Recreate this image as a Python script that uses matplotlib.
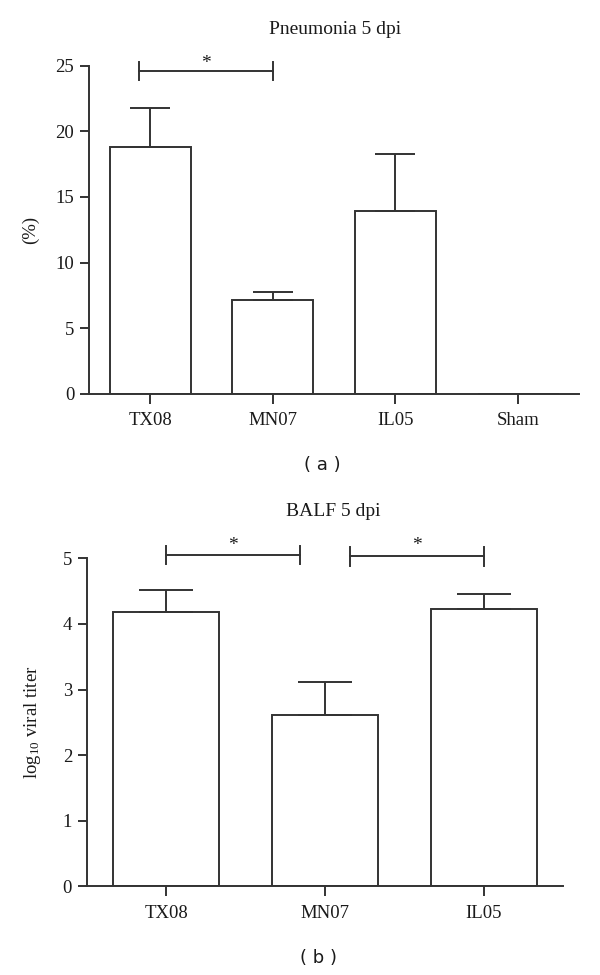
import numpy as np
import matplotlib
matplotlib.use("Agg")
import matplotlib.pyplot as plt

# Data
groups_a = ["TX08", "MN07", "IL05", "Sham"]
means_a = [18.8, 7.15, 13.9, 0.0]
err_a = [2.95, 0.6, 4.4, 0.0]

groups_b = ["TX08", "MN07", "IL05"]
means_b = [4.18, 2.61, 4.23]
err_b = [0.33, 0.50, 0.23]

plt.rcParams["font.family"] = ["Liberation Serif", "DejaVu Serif"]
plt.rcParams["mathtext.fontset"] = "custom"
plt.rcParams["mathtext.rm"] = "Liberation Serif"
plt.rcParams["mathtext.it"] = "Liberation Serif:italic"

line_col = "#333333"
txt_col = "#1a1a1a"
lw = 1.4
fs = 13.5

fig = plt.figure(figsize=(6, 9.75), dpi=100)
ax1 = fig.add_axes([0.148, 0.5962, 0.8177, 0.3364])
ax2 = fig.add_axes([0.1445, 0.0908, 0.7943, 0.3366])


def style_axis(ax, ymax, step):
    for s in ["top", "right"]:
        ax.spines[s].set_visible(False)
    for s in ["left", "bottom"]:
        ax.spines[s].set_linewidth(lw)
        ax.spines[s].set_color(line_col)
    ax.set_ylim(0, ymax)
    ax.set_yticks(np.arange(0, ymax + step / 2, step))
    ax.tick_params(axis="y", length=6.5, width=lw, color=line_col,
                   labelsize=fs, labelcolor=txt_col, pad=4)
    ax.tick_params(axis="x", length=7, width=lw, color=line_col,
                   labelsize=fs, labelcolor=txt_col, pad=6)


def bracket(ax, x0, x1, y, d, star_y):
    kw = dict(color=line_col, lw=lw, clip_on=False)
    ax.plot([x0, x1], [y, y], **kw)
    ax.plot([x0, x0], [y - d, y + d], **kw)
    ax.plot([x1, x1], [y - d, y + d], **kw)
    ax.text((x0 + x1) / 2, star_y, "*", ha="center", va="center",
            fontsize=14, color=txt_col)


# Panel (a)
xa = np.arange(len(groups_a))
ax1.bar(xa, means_a, width=0.66, color="white", edgecolor=line_col,
        linewidth=lw)
ax1.errorbar(xa[:3], means_a[:3], yerr=[np.zeros(3), err_a[:3]], fmt="none",
             ecolor=line_col, elinewidth=lw, capsize=14.5, capthick=lw)
ax1.set_xlim(-0.5, 3.5)
style_axis(ax1, 25, 5)
ax1.set_xticks(xa)
ax1.set_xticklabels(groups_a)
ax1.set_ylabel("(%)", fontsize=fs, color=txt_col, labelpad=12)
bracket(ax1, -0.09, 1.0, 24.6, 0.68, 25.15)

# Panel (b)
xb = np.arange(len(groups_b))
ax2.bar(xb, means_b, width=0.664, color="white", edgecolor=line_col,
        linewidth=lw)
ax2.errorbar(xb, means_b, yerr=[np.zeros(3), err_b], fmt="none",
             ecolor=line_col, elinewidth=lw, capsize=19.5, capthick=lw)
ax2.set_xlim(-0.5, 2.5)
style_axis(ax2, 5, 1)
ax2.set_xticks(xb)
ax2.set_xticklabels(groups_b)
ax2.set_ylabel(r"log$_{10}$ viral titer", fontsize=fs, color=txt_col,
               labelpad=14)
bracket(ax2, 0.0, 0.84, 5.05, 0.13, 5.2)
bracket(ax2, 1.16, 2.0, 5.03, 0.14, 5.2)

# Titles and panel letters
fig.text(335 / 600, 1 - 30 / 975, "Pneumonia 5 dpi", ha="center",
         va="center", fontsize=14, color=txt_col)
fig.text(333 / 600, 1 - 512 / 975, "BALF 5 dpi", ha="center",
         va="center", fontsize=14, color=txt_col)
fig.text(322 / 600, 1 - 465 / 975, "( a )", ha="center", va="center",
         fontsize=13, color=txt_col, family="DejaVu Sans")
fig.text(318 / 600, 1 - 958 / 975, "( b )", ha="center", va="center",
         fontsize=13, color=txt_col, family="DejaVu Sans")

fig.savefig("out.png", dpi=100, facecolor="white")
